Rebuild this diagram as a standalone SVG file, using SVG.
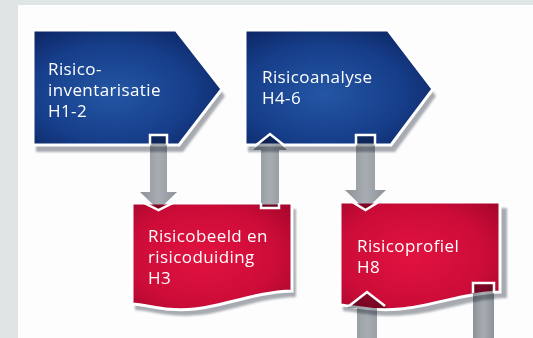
<svg xmlns="http://www.w3.org/2000/svg" width="533" height="338" viewBox="0 0 533 338">
  <defs>
    <radialGradient id="gBlue" cx="0.42" cy="0.55" r="0.7">
      <stop offset="0" stop-color="#2456a4"/>
      <stop offset="0.6" stop-color="#163e8a"/>
      <stop offset="1" stop-color="#0c2360"/>
    </radialGradient>
    <radialGradient id="gRed" cx="0.45" cy="0.5" r="0.7">
      <stop offset="0" stop-color="#e2123f"/>
      <stop offset="0.65" stop-color="#cc0c38"/>
      <stop offset="1" stop-color="#a8072d"/>
    </radialGradient>
    <linearGradient id="gBar" x1="0" y1="0" x2="1" y2="0">
      <stop offset="0" stop-color="#8d939a"/>
      <stop offset="0.5" stop-color="#a9aeb4"/>
      <stop offset="1" stop-color="#8d939a"/>
    </linearGradient>
    <filter id="soft" x="-10%" y="-10%" width="120%" height="130%">
      <feGaussianBlur stdDeviation="0.8"/>
    </filter>
  </defs>
  <style>
    .shadow { fill: #a7abb1; filter: url(#soft); }
    .blue { fill: url(#gBlue); stroke: #ffffff; stroke-width: 3; }
    .red { fill: url(#gRed); stroke: #ffffff; stroke-width: 3; }
    .lbl { font-family: "Open Sans", "Noto Sans", sans-serif; font-size: 17px; letter-spacing: 0.4px; fill: #ffffff; }
    .bar { fill: url(#gBar); mix-blend-mode: multiply; }
    .edge { fill: none; stroke: #ffffff; stroke-width: 2.5; stroke-linejoin: miter; }
  </style>

  <rect x="0" y="0" width="533" height="338" fill="#dfe4e5"/>
  <rect x="18" y="5" width="515" height="333" fill="#fdfdfd"/>

  <g id="node-inventarisatie">
    <path class="shadow" d="M36,37 H180 L225,96 L183,152 H36 Z"/>
    <path class="blue" d="M33,30 H176 L222,89 L179,145 H33 Z"/>
    <text class="lbl" x="48" y="74.5">Risico-</text>
    <text class="lbl" x="48" y="95.5">inventarisatie</text>
    <text class="lbl" x="48" y="116.5">H1-2</text>
  </g>

  <g id="node-analyse">
    <path class="shadow" d="M248,37 H392 L436,96 L395,152 H248 Z"/>
    <path class="blue" d="M245,30 H388 L433,89 L391,145 H245 Z"/>
    <text class="lbl" x="262" y="83">Risicoanalyse</text>
    <text class="lbl" x="262" y="104">H4-6</text>
  </g>

  <g id="node-risicobeeld">
    <path class="shadow" d="M135,209 H296 V297 C259,298 229,312 199,315 C169,318 154,311 135,310 Z"/>
    <path class="red" d="M132,203 H292 V291 C255,292 225,306 195,309 C165,312 150,305 132,304 Z"/>
    <text class="lbl" x="148" y="242">Risicobeeld en</text>
    <text class="lbl" x="148" y="263">risicoduiding</text>
    <text class="lbl" x="148" y="284">H3</text>
  </g>

  <g id="node-risicoprofiel">
    <path class="shadow" d="M343,208 H507 V298 C470,299 440,313 406,315 C376,318 360,312 343,311 Z"/>
    <path class="red" d="M340,202 H500 V292 C463,293 433,306 400,309 C370,312 355,306 340,305 Z"/>
    <text class="lbl" x="357" y="252">Risicoprofiel</text>
    <text class="lbl" x="357" y="273">H8</text>
  </g>

  <g id="connectors">
    <g id="c1">
      <path class="bar" d="M150,135 H167 V192 H177 L158.5,210 L140,192 H150 Z"/>
      <path class="edge" d="M150,145 V135 H167 V145 M140,201 L158.5,210 L177,201"/>
    </g>
    <g id="c2">
      <path class="bar" d="M261,208 V150 H253 L270,134 L287,150 H279 V208 Z"/>
      <path class="edge" d="M255,146 L270,134 L285,146 M261,203 V208 H279 V203"/>
    </g>
    <g id="c3">
      <path class="bar" d="M356,135 H375 V190 H386 L365.5,210 L345,190 H356 Z"/>
      <path class="edge" d="M356,145 V135 H375 V145 M349,200 L365.5,210 L382,200"/>
    </g>
    <g id="c4">
      <path class="bar" d="M357,338 V308 H347 L367,292 L387,308 H377 V338 Z"/>
      <path class="edge" d="M349,306 L367,292 L385,306"/>
    </g>
    <g id="c5">
      <path class="bar" d="M473,283 H494 V338 H473 Z"/>
      <path class="edge" d="M473,293 V283 H494 V293"/>
    </g>
  </g>
</svg>
